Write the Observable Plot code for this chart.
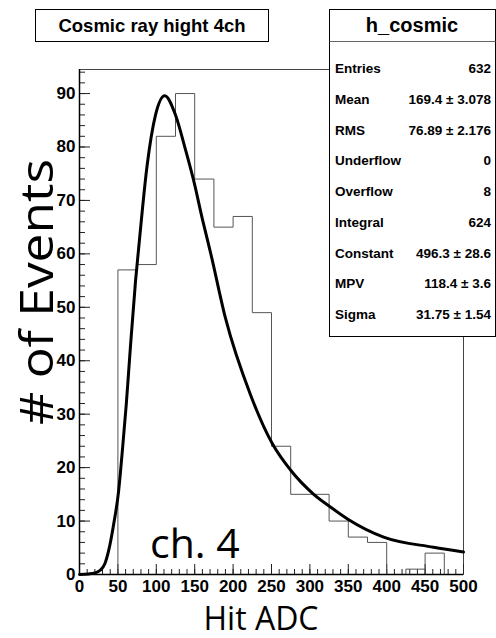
<!DOCTYPE html>
<html>
<head>
<meta charset="utf-8">
<script src="https://cdn.jsdelivr.net/npm/d3@7"></script>
<script src="https://cdn.jsdelivr.net/npm/@observablehq/plot@0.6"></script>
<style>
  html, body { margin: 0; padding: 0; background: white; }
</style>
</head>
<body>
<div id="chart"></div>
<script>
// Histogram: bin lower edges (width 25) and counts
const binLow = [0, 25, 50, 75, 100, 125, 150, 175, 200, 225, 250, 275, 300, 325, 350, 375, 400, 425, 450, 475];
const counts = [0, 0, 57, 58, 82, 90, 74, 65, 67, 49, 24, 15, 15, 10, 7, 6, 0, 1, 4, 0];
const xMax = 500;

// Fit curve (Landau) points
const fitX = [0, 12, 20, 27, 33, 38, 44, 51, 56, 61, 66, 73, 77, 88, 99, 111, 125, 138, 149, 160, 171, 190, 223, 251, 275, 305, 327, 350, 396, 461, 500];
const fitY = [0, 0.1, 0.3, 0.8, 2, 4.5, 9, 15.7, 23.5, 32, 42, 55, 61, 76.5, 86, 89.6, 86, 79.5, 73.5, 66.5, 60, 48, 33.5, 24.5, 19.5, 15, 12.6, 10.3, 7, 5.1, 4.2];

// Axis ticks
const xTickLabels = [0, 50, 100, 150, 200, 250, 300, 350, 400, 450, 500];
const xMinorTicks = d3.range(0, 501, 10);
const yTickLabels = [0, 10, 20, 30, 40, 50, 60, 70, 80, 90];
const yMinorTicks = d3.range(0, 95, 2);

// Texts
const titleText = "Cosmic ray hight 4ch";
const statsName = "h_cosmic";
const statsLabels = ["Entries", "Mean", "RMS", "Underflow", "Overflow", "Integral", "Constant", "MPV", "Sigma"];
const statsValues = ["632", "169.4 \u00b1 3.078", "76.89 \u00b1 2.176", "0", "8", "624", "496.3 \u00b1 28.6", "118.4 \u00b1 3.6", "31.75 \u00b1 1.54"];
const xLabel = "Hit ADC";
const yLabel = "# of Events";
const chLabel = "ch. 4";

const yMax = 94.5;
const W = 496, H = 638;
const mL = 79, mR = 33, mT = 69, mB = 64;
const pxPerX = (W - mL - mR) / xMax;
const pxPerY = (H - mT - mB) / yMax;

const histPts = binLow.map((b, i) => ({x: b, y: counts[i]}));
histPts.push({x: xMax, y: counts[counts.length - 1]});
const fitPts = fitX.map((x, i) => ({x, y: fitY[i]}));

const chart = Plot.plot({
  width: W, height: H,
  marginLeft: mL, marginRight: mR, marginTop: mT, marginBottom: mB,
  x: {domain: [0, xMax]},
  y: {domain: [0, yMax]},
  style: {fontFamily: "'Liberation Sans', Arial, sans-serif", fontSize: "17px", fontWeight: "bold", background: "white", color: "black"},
  marks: [
    Plot.frame({stroke: "#444", strokeWidth: 1}),
    // minor / major ticks pointing inward
    Plot.ruleX(xMinorTicks, {x: d => d, y1: 0, y2: 5 / pxPerY, stroke: "#222", strokeWidth: 1}),
    Plot.ruleX(xTickLabels, {x: d => d, y1: 0, y2: 10 / pxPerY, stroke: "#222", strokeWidth: 1}),
    Plot.ruleY(yMinorTicks, {y: d => d, x1: 0, x2: 6 / pxPerX, stroke: "#222", strokeWidth: 1}),
    Plot.ruleY(yTickLabels, {y: d => d, x1: 0, x2: 11 / pxPerX, stroke: "#222", strokeWidth: 1}),
    Plot.line(histPts, {x: "x", y: "y", curve: "step-after", stroke: "#555", strokeWidth: 1}),
    Plot.line(fitPts, {x: "x", y: "y", curve: "monotone-x", stroke: "black", strokeWidth: 3}),
    Plot.ruleY([0], {stroke: "black", strokeWidth: 1.5}),
    Plot.ruleX([0], {stroke: "black", strokeWidth: 1.5}),
    Plot.axisX({ticks: xTickLabels, tickSize: 0, tickPadding: 5, tickFormat: d => String(d), label: null}),
    Plot.axisY({ticks: yTickLabels, tickSize: 0, tickPadding: 4, tickFormat: d => String(d), label: null})
  ]
});

document.getElementById("chart").appendChild(chart);

const svg = d3.select(chart);
const sans = "'Liberation Sans', Arial, sans-serif";

// Title box
const tg = svg.append("g");
tg.append("rect").attr("x", 35.5).attr("y", 9.5).attr("width", 233).attr("height", 32)
  .attr("fill", "white").attr("stroke", "black").attr("stroke-width", 1);
tg.append("text").attr("x", 152).attr("y", 31.5).attr("text-anchor", "middle")
  .attr("font-family", sans).attr("font-weight", "bold")
  .attr("font-size", 18.5).text(titleText);

// Stats box
const sg = svg.append("g");
sg.append("rect").attr("x", 329.5).attr("y", 9.5).attr("width", 166).attr("height", 327)
  .attr("fill", "white").attr("stroke", "black").attr("stroke-width", 1);
sg.append("line").attr("x1", 329.5).attr("x2", 495.5).attr("y1", 41.5).attr("y2", 41.5)
  .attr("stroke", "#666").attr("stroke-width", 1);
sg.append("text").attr("x", 412).attr("y", 32).attr("text-anchor", "middle")
  .attr("font-family", sans).attr("font-weight", "bold")
  .attr("font-size", 20).text(statsName);
statsLabels.forEach((lab, i) => {
  const yc = 68 + i * 30.75;
  sg.append("text").attr("x", 335).attr("y", yc + 5).attr("text-anchor", "start")
    .attr("font-family", sans).attr("font-weight", "bold")
    .attr("font-size", 13.5).text(lab);
  sg.append("text").attr("x", 491).attr("y", yc + 5).attr("text-anchor", "end")
    .attr("font-family", sans).attr("font-weight", "bold")
    .attr("font-size", 13.5).text(statsValues[i]);
});

// Big axis labels
svg.append("text").attr("transform", "translate(53,292) rotate(-90)").attr("text-anchor", "middle")
  .attr("font-family", "'Open Sans', sans-serif").attr("font-weight", "normal")
  .attr("font-size", 46).attr("textLength", 266).attr("lengthAdjust", "spacingAndGlyphs")
  .text(yLabel);
svg.append("text").attr("x", 261).attr("y", 630).attr("text-anchor", "middle")
  .attr("font-family", "'Open Sans', sans-serif").attr("font-weight", "normal")
  .attr("font-size", 32).text(xLabel);
svg.append("text").attr("x", 150).attr("y", 558).attr("text-anchor", "start")
  .attr("font-family", "'Open Sans', sans-serif").attr("font-weight", "normal")
  .attr("font-size", 41).text(chLabel);
</script>
</body>
</html>
